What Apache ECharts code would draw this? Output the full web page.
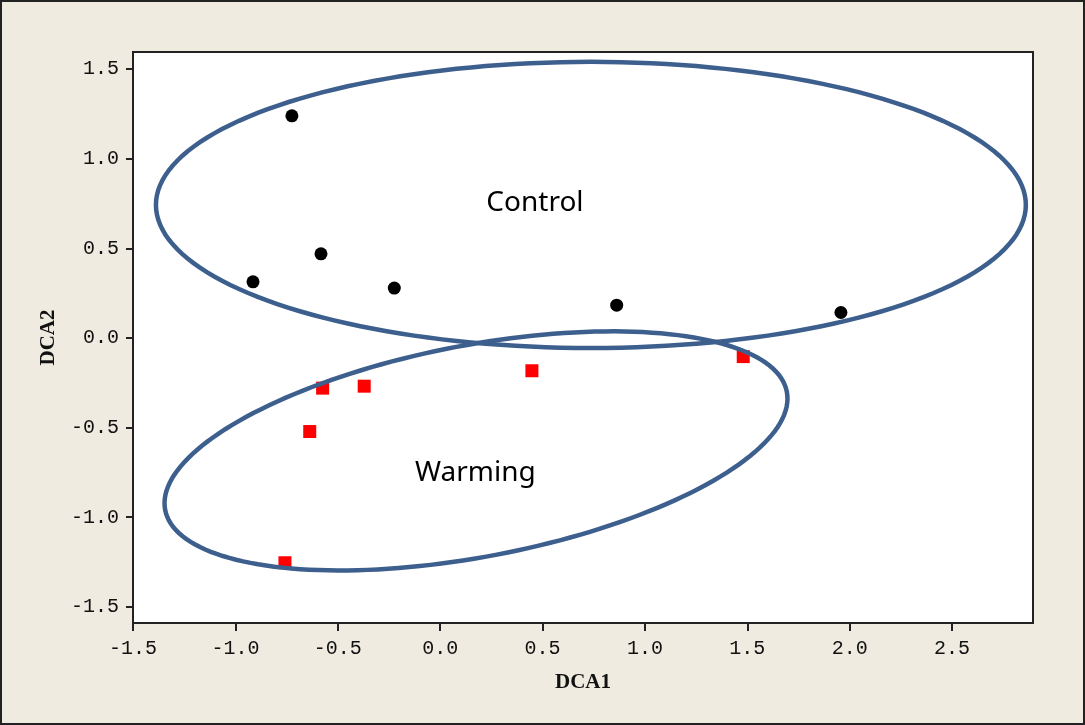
<!DOCTYPE html>
<html>
<head><meta charset="utf-8">
<script src="https://cdn.jsdelivr.net/npm/echarts@6/dist/echarts.min.js"></script>
</head>
<body style="margin:0;background-color:#efebe1;">
<div id="main" style="width:1085px;height:725px;"></div>
<script>
// DCA 得分
var controlX = [-0.724, -0.914, -0.582, -0.224, 0.862, 1.957];
var controlY = [1.239, 0.313, 0.469, 0.278, 0.183, 0.142];
var warmingX = [-0.574, -0.371, -0.637, 0.448, 1.480, -0.758];
var warmingY = [-0.280, -0.269, -0.522, -0.183, -0.104, -1.254];

var xTicks = [-1.5, -1.0, -0.5, 0.0, 0.5, 1.0, 1.5, 2.0, 2.5];
var yTicks = [-1.5, -1.0, -0.5, 0.0, 0.5, 1.0, 1.5];

// 分组椭圆：中心 + 两个共轭半径（数据单位）
var groupNames = ['Control', 'Warming'];
var ellCenterX = [0.736, 0.175];
var ellCenterY = [0.742, -0.630];
var ellU = [[2.124, 0], [1.518, 0.329]];
var ellV = [[0, 0.798], [0.096, -0.580]];
var labelX = [0.463, 0.172];
var labelY = [0.753, -0.752];

function pairs(xs, ys) {
    return xs.map(function (x, i) { return [x, ys[i]]; });
}

var ellData = groupNames.map(function (n, i) {
    return [ellCenterX[i], ellCenterY[i], i];
});

var myChart = echarts.init(document.getElementById('main'));

var axisFont = {fontFamily: 'Liberation Mono', fontSize: 20, color: '#111'};

var option = {
    animation: false,
    backgroundColor: '#efebe1',
    graphic: [{
        type: 'rect',
        shape: {x: 1, y: 1, width: 1083, height: 723},
        style: {fill: 'none', stroke: '#222', lineWidth: 2},
        z: 100
    }],
    grid: {
        left: 133, top: 52, right: 52, bottom: 102,
        show: true,
        backgroundColor: '#fff',
        borderColor: '#222',
        borderWidth: 2
    },
    xAxis: {
        type: 'value',
        min: -1.5,
        max: 2.895,
        name: 'DCA1',
        nameLocation: 'middle',
        nameGap: 49,
        nameTextStyle: {fontFamily: 'Liberation Serif', fontWeight: 'bold', fontSize: 21, color: '#111'},
        axisLine: {onZero: false, lineStyle: {color: '#222', width: 2}},
        axisTick: {length: 8, customValues: xTicks, lineStyle: {color: '#222', width: 2}},
        axisLabel: Object.assign({
            margin: 16,
            customValues: xTicks,
            formatter: function (v) { return v.toFixed(1); }
        }, axisFont),
        splitLine: {show: false}
    },
    yAxis: {
        type: 'value',
        min: -1.59,
        max: 1.595,
        name: 'DCA2',
        nameLocation: 'middle',
        nameGap: 74,
        nameTextStyle: {fontFamily: 'Liberation Serif', fontWeight: 'bold', fontSize: 21, color: '#111'},
        axisLine: {onZero: false, lineStyle: {color: '#222', width: 2}},
        axisTick: {length: 7, customValues: yTicks, lineStyle: {color: '#222', width: 2}},
        axisLabel: Object.assign({
            margin: 14,
            customValues: yTicks,
            formatter: function (v) { return v.toFixed(1); }
        }, axisFont),
        splitLine: {show: false}
    },
    series: [
        {
            name: 'Control',
            type: 'scatter',
            symbol: 'circle',
            symbolSize: 13,
            itemStyle: {color: '#000', opacity: 1},
            data: pairs(controlX, controlY),
            z: 3
        },
        {
            name: 'Warming',
            type: 'scatter',
            symbol: 'rect',
            symbolSize: 13,
            itemStyle: {color: '#ff0000', opacity: 1},
            data: pairs(warmingX, warmingY),
            z: 3
        },
        {
            type: 'custom',
            clip: false,
            data: ellData,
            z: 4,
            renderItem: function (params, api) {
                var i = api.value(2);
                var cx = api.value(0), cy = api.value(1);
                var u = ellU[i], v = ellV[i];
                var pts = [];
                for (var k = 0; k < 180; k++) {
                    var t = k / 180 * Math.PI * 2;
                    var c = Math.cos(t), s = Math.sin(t);
                    pts.push(api.coord([cx + u[0] * c + v[0] * s, cy + u[1] * c + v[1] * s]));
                }
                var lp = api.coord([labelX[i], labelY[i]]);
                return {
                    type: 'group',
                    children: [{
                        type: 'polygon',
                        shape: {points: pts},
                        style: {fill: 'none', stroke: '#3d5f8d', lineWidth: 4.5}
                    }, {
                        type: 'text',
                        x: lp[0], y: lp[1],
                        style: {
                            text: groupNames[i],
                            font: '28px "Noto Sans"',
                            fill: '#000',
                            align: 'center',
                            verticalAlign: 'middle'
                        }
                    }]
                };
            }
        }
    ]
};

option && myChart.setOption(option);
</script>
</body>
</html>
